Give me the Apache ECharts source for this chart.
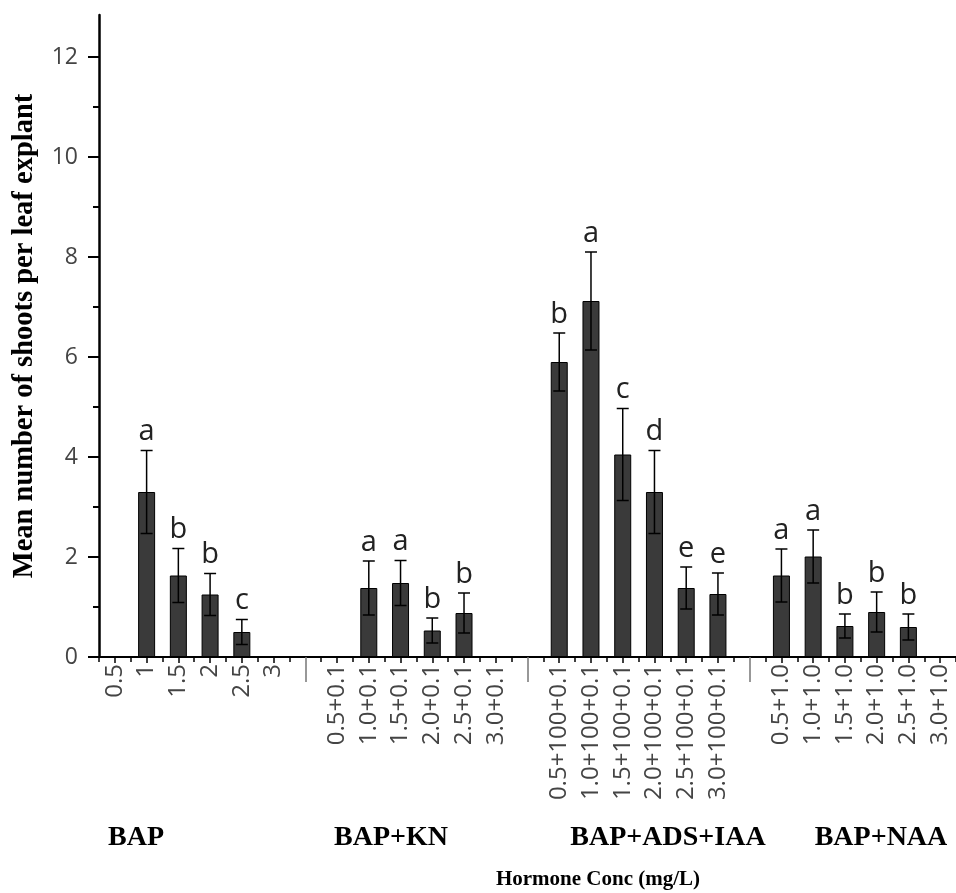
<!DOCTYPE html>
<html>
<head>
<meta charset="utf-8">
<script src="https://cdn.jsdelivr.net/npm/echarts@6/dist/echarts.min.js"></script>
<style>
  html, body { margin: 0; padding: 0; background: #fff; }
  #chart { width: 956px; height: 893px; }
</style>
</head>
<body>
<div id="chart"></div>
<script>
// categories, '' = gap between hormone groups
var categories = [
  '0.5', '1', '1.5', '2', '2.5', '3', '',
  '0.5+0.1', '1.0+0.1', '1.5+0.1', '2.0+0.1', '2.5+0.1', '3.0+0.1', '',
  '0.5+100+0.1', '1.0+100+0.1', '1.5+100+0.1', '2.0+100+0.1', '2.5+100+0.1', '3.0+100+0.1', '',
  '0.5+1.0', '1.0+1.0', '1.5+1.0', '2.0+1.0', '2.5+1.0', '3.0+1.0'
]
var means = [
  0, 3.3, 1.63, 1.25, 0.5, 0, null,
  0, 1.38, 1.48, 0.53, 0.88, 0, null,
  5.9, 7.12, 4.05, 3.3, 1.38, 1.26, null,
  1.63, 2.01, 0.62, 0.9, 0.6, 0
]
var errors = [
  0, 0.83, 0.54, 0.42, 0.25, 0, null,
  0, 0.54, 0.45, 0.25, 0.4, 0, null,
  0.58, 0.98, 0.92, 0.83, 0.42, 0.42, null,
  0.53, 0.53, 0.24, 0.4, 0.26, 0
]
var letters = [
  '', 'a', 'b', 'b', 'c', '', '',
  '', 'a', 'a', 'b', 'b', '', '',
  'b', 'a', 'c', 'd', 'e', 'e', '',
  'a', 'a', 'b', 'b', 'b', ''
]
var groupNames = ['BAP', 'BAP+KN', 'BAP+ADS+IAA', 'BAP+NAA']
var groupX = [136, 391, 668, 881]
var majorTicks = [0, 2, 4, 6, 8, 10, 12]
var minorTicks = [1, 3, 5, 7, 9, 11]

var errData = []
for (var i = 0; i < categories.length; i++) {
  if (errors[i]) errData.push([i, means[i], errors[i]])
}

var chart = echarts.init(document.getElementById('chart'))

function renderErr(params, api) {
  var idx = api.value(0)
  var m = api.value(1)
  var e = api.value(2)
  var top = api.coord([idx, m + e])
  var bot = api.coord([idx, m - e])
  var half = 6
  var st = { stroke: '#000', lineWidth: 1.5 }
  return {
    type: 'group',
    children: [
      { type: 'line', shape: { x1: top[0], y1: top[1], x2: bot[0], y2: bot[1] }, style: st },
      { type: 'line', shape: { x1: top[0] - half, y1: top[1], x2: top[0] + half, y2: top[1] }, style: st },
      { type: 'line', shape: { x1: bot[0] - half, y1: bot[1], x2: bot[0] + half, y2: bot[1] }, style: st },
      {
        type: 'text',
        x: top[0],
        y: top[1] - 4,
        style: {
          text: letters[idx],
          align: 'center',
          verticalAlign: 'bottom',
          font: '29px "Open Sans"',
          fill: '#222'
        }
      }
    ]
  }
}

var graphics = groupNames.map(function(name, k) {
  return {
    type: 'text',
    x: groupX[k],
    y: 838,
    style: {
      text: name,
      align: 'center',
      verticalAlign: 'middle',
      font: 'bold 28px "Liberation Serif"',
      fill: '#000'
    }
  }
})
graphics.push({
  type: 'text',
  x: 598,
  y: 880,
  style: {
    text: 'Hormone Conc (mg/L)',
    align: 'center',
    verticalAlign: 'middle',
    font: 'bold 21px "Liberation Serif"',
    fill: '#000'
  }
})

var option = {
  animation: false,
  backgroundColor: '#fff',
  grid: { left: 99, right: -6, top: 15, bottom: 236 },
  xAxis: [
    {
      type: 'category',
      data: categories,
      position: 'bottom',
      axisLine: { lineStyle: { color: '#000', width: 2 } },
      axisTick: {
        show: true,
        alignWithLabel: true,
        length: 6,
        interval: function(i, v) { return v !== '' },
        lineStyle: { color: '#000', width: 1.5 }
      },
      axisLabel: {
        interval: 0,
        rotate: 90,
        margin: 7,
        fontFamily: 'Open Sans',
        fontSize: 24,
        color: '#444'
      }
    },
    {
      // ticks between categories
      type: 'category',
      data: categories,
      position: 'bottom',
      axisLine: { show: false },
      axisTick: { show: true, alignWithLabel: false, interval: 0, length: 5, lineStyle: { color: '#000', width: 1.5 } },
      axisLabel: { show: false }
    },
    {
      // long separators between groups
      type: 'category',
      data: categories,
      position: 'bottom',
      axisLine: { show: false },
      axisTick: {
        show: true,
        alignWithLabel: true,
        length: 25,
        interval: function(i, v) { return v === '' },
        lineStyle: { color: '#777', width: 1.5 }
      },
      axisLabel: { show: false }
    }
  ],
  yAxis: [
    {
      type: 'value',
      min: 0,
      max: 12.84,
      position: 'left',
      splitLine: { show: false },
      axisLine: { show: true, lineStyle: { color: '#000', width: 2.5 } },
      axisTick: { show: true, customValues: majorTicks, length: 11, lineStyle: { color: '#000', width: 2 } },
      axisLabel: {
        customValues: majorTicks,
        margin: 21,
        fontFamily: 'Open Sans',
        fontSize: 23,
        color: '#444'
      },
      name: 'Mean number of shoots per leaf explant',
      nameLocation: 'middle',
      nameRotate: 90,
      nameGap: 60,
      nameTextStyle: {
        fontFamily: 'Liberation Serif',
        fontWeight: 'bold',
        fontSize: 28.5,
        color: '#000'
      }
    },
    {
      type: 'value',
      min: 0,
      max: 12.84,
      position: 'left',
      splitLine: { show: false },
      axisLine: { show: false },
      axisTick: { show: true, customValues: minorTicks, length: 6, lineStyle: { color: '#000', width: 2 } },
      axisLabel: { show: false }
    }
  ],
  series: [
    {
      type: 'bar',
      data: means,
      barWidth: 17,
      itemStyle: { color: '#3a3a3a', borderColor: '#000', borderWidth: 1 }
    },
    {
      type: 'custom',
      renderItem: renderErr,
      data: errData,
      z: 5
    }
  ],
  graphic: graphics
}
chart.setOption(option)
</script>
</body>
</html>
